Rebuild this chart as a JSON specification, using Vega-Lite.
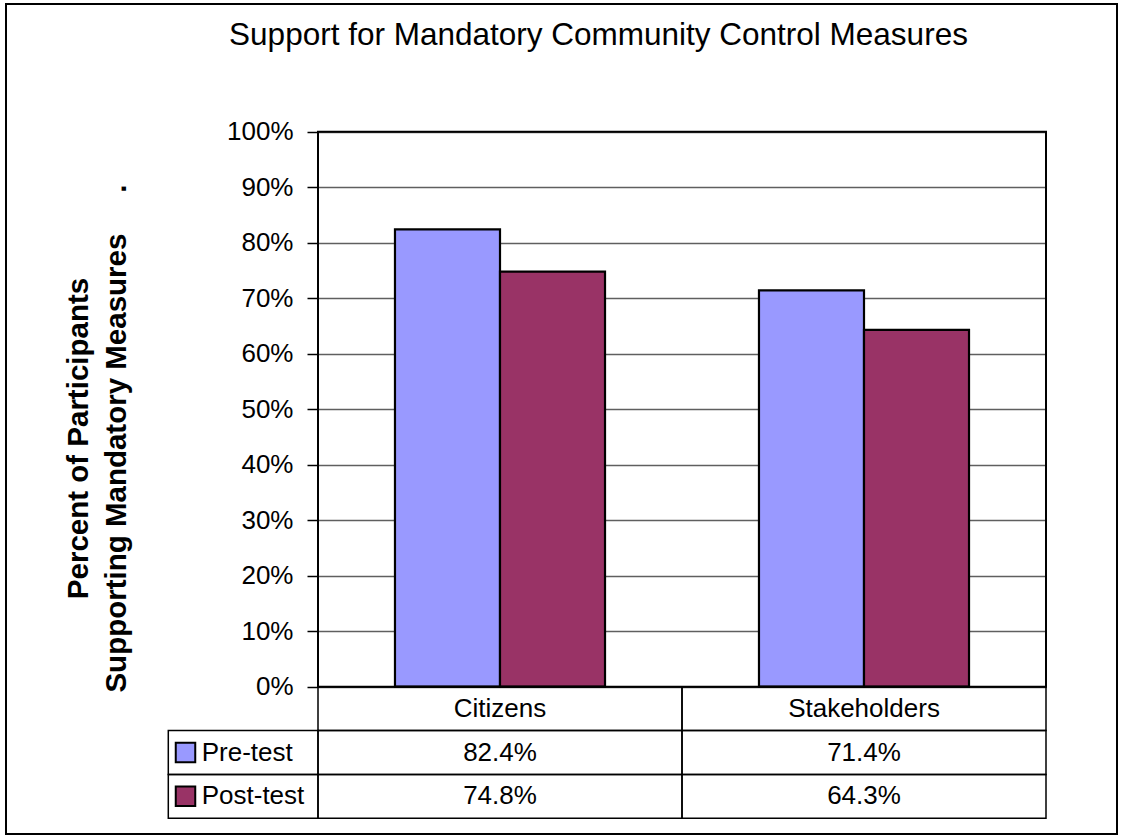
{
  "$schema": "https://vega.github.io/schema/vega-lite/v6.json",
  "width": 1111,
  "height": 830,
  "padding": {"left": 6, "top": 4, "right": 6, "bottom": 5},
  "autosize": {"type": "pad"},
  "background": "white",
  "config": {
    "font": "Liberation Sans",
    "view": {"stroke": "black", "strokeWidth": 2}
  },
  "title": {
    "text": "Support for Mandatory Community Control Measures",
    "font": "Liberation Sans",
    "fontSize": 31.5,
    "fontWeight": "normal",
    "color": "black",
    "anchor": "middle",
    "frame": "group",
    "baseline": "alphabetic",
    "offset": -41,
    "dx": 37,
    "dy": 31
  },
  "datasets": {
    "scores": [
      {"category": "Citizens", "series": "Pre-test", "value": 0.824},
      {"category": "Citizens", "series": "Post-test", "value": 0.748},
      {"category": "Stakeholders", "series": "Pre-test", "value": 0.714},
      {"category": "Stakeholders", "series": "Post-test", "value": 0.643}
    ]
  },
  "layer": [
    {
      "data": {"name": "scores"},
      "mark": {"type": "bar", "stroke": "black", "strokeWidth": 2.2},
      "encoding": {
        "x": {
          "field": "category", "type": "nominal",
          "scale": {"domain": ["Citizens", "Stakeholders"], "range": [312, 1040], "paddingInner": 0, "paddingOuter": 0},
          "axis": null
        },
        "xOffset": {
          "field": "series", "type": "nominal",
          "scale": {"domain": ["Pre-test", "Post-test"], "paddingInner": 0, "paddingOuter": 0.733}
        },
        "y": {
          "field": "value", "type": "quantitative",
          "scale": {"domain": [0, 1], "range": [682.7, 127.7], "nice": false, "zero": true},
          "axis": {
            "values": [0, 0.1, 0.2, 0.3, 0.4, 0.5, 0.6, 0.7, 0.8, 0.9, 1],
            "format": ".0%",
            "offset": -312,
            "domain": false,
            "grid": true,
            "gridColor": "#5f5f5f",
            "gridWidth": 1.5,
            "ticks": true,
            "tickSize": 11,
            "tickColor": "black",
            "tickWidth": 1.5,
            "labelPadding": 14,
            "labelFont": "Liberation Sans",
            "labelFontSize": 26,
            "labelColor": "black",
            "labelFlush": false,
            "labelOverlap": false,
            "labelBaseline": "middle",
            "title": ["Percent of Participants", "Supporting Mandatory Measures\u00a0\u00a0\u00a0\u00a0\u00a0."],
            "titleFont": "Liberation Sans",
            "titleFontSize": 29.5,
            "titleFontWeight": "bold",
            "titleColor": "black",
            "titleLineHeight": 38,
            "titleAngle": 270,
            "titleAlign": "center",
            "titleBaseline": "alphabetic",
            "titleX": -231,
            "titleY": 434
          }
        },
        "color": {
          "field": "series", "type": "nominal",
          "scale": {"domain": ["Pre-test", "Post-test"], "range": ["#9999FF", "#993366"]},
          "legend": null
        }
      }
    },
    {
      "data": {"values": [{"area": "plot"}]},
      "mark": {"type": "rect", "fill": null, "stroke": "black", "strokeWidth": 2},
      "encoding": {
        "x": {
          "field": "area", "type": "nominal",
          "scale": {"domain": ["plot"], "range": [312, 1040], "paddingInner": 0, "paddingOuter": 0},
          "axis": null
        },
        "y": {
          "datum": 1, "type": "quantitative",
          "scale": {"domain": [0, 1], "range": [682.7, 127.7], "nice": false},
          "axis": null
        },
        "y2": {"datum": 0}
      }
    },
    {
      "data": {"name": "scores"},
      "encoding": {
        "x": {
          "field": "category", "type": "nominal",
          "scale": {"domain": ["Citizens", "Stakeholders"], "range": [312, 1040], "paddingInner": 0, "paddingOuter": 0},
          "axis": null
        },
        "y": {
          "field": "series", "type": "nominal",
          "scale": {"domain": ["header", "Pre-test", "Post-test"], "range": [682.7, 814.3], "paddingInner": 0, "paddingOuter": 0},
          "axis": null
        }
      },
      "layer": [
        {"mark": {"type": "rect", "fill": null, "stroke": "black", "strokeWidth": 1.5}},
        {
          "mark": {"type": "text", "font": "Liberation Sans", "fontSize": 26, "color": "black", "baseline": "middle", "align": "center"},
          "encoding": {"text": {"field": "value", "type": "quantitative", "format": ".1%"}}
        }
      ]
    },
    {
      "data": {"name": "scores"},
      "transform": [{"filter": "datum.series === 'Pre-test'"}],
      "encoding": {
        "x": {
          "field": "category", "type": "nominal",
          "scale": {"domain": ["Citizens", "Stakeholders"], "range": [312, 1040], "paddingInner": 0, "paddingOuter": 0},
          "axis": null
        },
        "y": {
          "datum": "header", "type": "nominal",
          "scale": {"domain": ["header", "Pre-test", "Post-test"], "range": [682.7, 814.3], "paddingInner": 0, "paddingOuter": 0},
          "axis": null
        }
      },
      "layer": [
        {"mark": {"type": "rect", "fill": null, "stroke": "black", "strokeWidth": 1.5}},
        {
          "mark": {"type": "text", "font": "Liberation Sans", "fontSize": 26, "color": "black", "baseline": "middle", "align": "center"},
          "encoding": {"text": {"field": "category", "type": "nominal"}}
        }
      ]
    },
    {
      "data": {"name": "scores"},
      "transform": [{"filter": "datum.category === 'Citizens'"}],
      "encoding": {
        "y": {
          "field": "series", "type": "nominal",
          "scale": {"domain": ["header", "Pre-test", "Post-test"], "range": [682.7, 814.3], "paddingInner": 0, "paddingOuter": 0},
          "axis": null
        }
      },
      "layer": [
        {
          "mark": {"type": "rect", "fill": null, "stroke": "black", "strokeWidth": 1.5},
          "encoding": {
            "x": {
              "datum": "legend", "type": "nominal",
              "scale": {"domain": ["legend"], "range": [162.3, 312], "paddingInner": 0, "paddingOuter": 0},
              "axis": null
            }
          }
        },
        {
          "mark": {"type": "point", "shape": "square", "filled": true, "size": 380, "stroke": "black", "strokeWidth": 2, "opacity": 1, "xOffset": 17.2},
          "encoding": {
            "x": {
              "datum": "legend", "type": "nominal", "bandPosition": 0,
              "scale": {"domain": ["legend"], "range": [162.3, 312], "paddingInner": 0, "paddingOuter": 0},
              "axis": null
            },
            "fill": {
              "field": "series", "type": "nominal",
              "scale": {"domain": ["Pre-test", "Post-test"], "range": ["#9999FF", "#993366"]},
              "legend": null
            }
          }
        },
        {
          "mark": {"type": "text", "font": "Liberation Sans", "fontSize": 26, "color": "black", "baseline": "middle", "align": "left", "dx": 33.4},
          "encoding": {
            "x": {
              "datum": "legend", "type": "nominal", "bandPosition": 0,
              "scale": {"domain": ["legend"], "range": [162.3, 312], "paddingInner": 0, "paddingOuter": 0},
              "axis": null
            },
            "text": {"field": "series", "type": "nominal"}
          }
        }
      ]
    }
  ],
  "resolve": {"scale": {"x": "independent", "y": "independent"}}
}
